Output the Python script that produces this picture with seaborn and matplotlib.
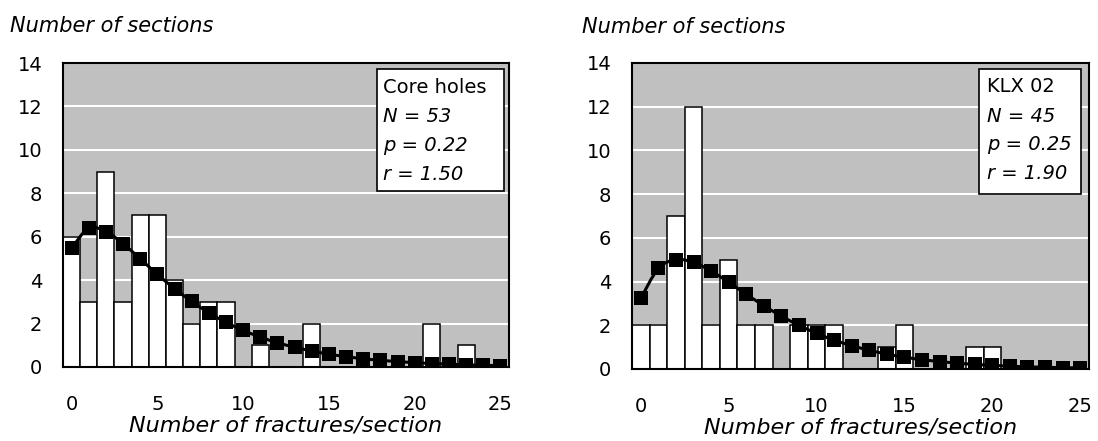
import matplotlib
matplotlib.use("Agg")
import matplotlib.pyplot as plt
import seaborn as sns
from matplotlib.patches import Rectangle, PathPatch
from matplotlib.path import Path

# Number of fractures per section (histogram bins)
fractures = list(range(26))

# Core holes: observed section counts and fitted negative binomial
core_counts = [6, 3, 9, 3, 7, 7, 4, 2, 3, 3, 0, 1, 0, 0, 2, 0, 0, 0, 0, 0, 0, 2, 0, 1, 0, 0]
core_fit = [5.47, 6.40, 6.24, 5.68, 4.98, 4.27, 3.61, 3.02, 2.50, 2.06, 1.69, 1.38, 1.12,
            0.91, 0.74, 0.59, 0.48, 0.38, 0.31, 0.25, 0.20, 0.16, 0.13, 0.10, 0.08, 0.06]
core_info = ["Core holes", "N = 53", "p = 0.22", "r = 1.50"]

# KLX 02: observed section counts and fitted negative binomial
klx_counts = [2, 2, 7, 12, 2, 5, 2, 2, 0, 2, 2, 2, 0, 0, 1, 2, 0, 0, 0, 1, 1, 0, 0, 0, 0, 0]
klx_fit = [3.23, 4.60, 5.00, 4.88, 4.48, 3.97, 3.42, 2.90, 2.42, 2.00, 1.63, 1.32, 1.07,
           0.86, 0.68, 0.54, 0.43, 0.34, 0.27, 0.21, 0.17, 0.13, 0.10, 0.08, 0.06, 0.05]
klx_info = ["KLX 02", "N = 45", "p = 0.25", "r = 1.90"]

y_ticks = [0, 2, 4, 6, 8, 10, 12, 14]
x_ticks = [0, 5, 10, 15, 20, 25]

plt.rcParams["font.family"] = ["DejaVu Sans"]

W, H = 1098, 441
fig = plt.figure(figsize=(W / 100, H / 100), dpi=100)
ax1 = fig.add_axes([63 / W, 1 - 367 / H, 446 / W, 304 / H])
ax2 = fig.add_axes([632 / W, 1 - 369 / H, 457 / W, 306 / H])


def smooth_path(xs, ys):
    """Cardinal-spline (spreadsheet-style smoothed line) through the points as Bezier segments."""
    pts = list(zip(xs, ys))
    n = len(pts)
    verts = [pts[0]]
    codes = [Path.MOVETO]
    for i in range(n - 1):
        p0 = pts[i - 1] if i > 0 else pts[i]
        p1 = pts[i]
        p2 = pts[i + 1]
        p3 = pts[i + 2] if i + 2 < n else pts[i + 1]
        c1 = (p1[0] + (p2[0] - p0[0]) / 6, p1[1] + (p2[1] - p0[1]) / 6)
        c2 = (p2[0] - (p3[0] - p1[0]) / 6, p2[1] - (p3[1] - p1[1]) / 6)
        verts += [c1, c2, p2]
        codes += [Path.CURVE4] * 3
    return Path(verts, codes)


def draw_panel(ax, counts, fit, info, box, baselines, text_x):
    ax.set_facecolor("#c0c0c0")
    sns.barplot(x=fractures, y=counts, ax=ax, color="white", saturation=1,
                edgecolor="black", linewidth=1.1, width=1.0, zorder=2)
    ax.add_patch(PathPatch(smooth_path(fractures, fit), transform=ax.transData,
                           fill=False, edgecolor="black", linewidth=2.2, zorder=4))
    sns.scatterplot(x=fractures, y=fit, ax=ax, color="black", marker="s", s=100,
                    edgecolor="black", linewidth=0, zorder=5, legend=False)
    ax.set_xlim(-0.5, 25.5)
    ax.set_ylim(0, 14)
    ax.set_yticks(y_ticks)
    ax.set_yticklabels([str(v) for v in y_ticks])
    ax.set_xticks(x_ticks)
    ax.set_xticklabels([str(v) for v in x_ticks])
    ax.set_axisbelow(True)
    ax.yaxis.grid(True, color="white", linewidth=1.5)
    ax.xaxis.grid(False)
    ax.tick_params(axis="both", length=0, labelsize=14)
    ax.tick_params(axis="x", pad=20)
    ax.tick_params(axis="y", pad=15)
    for sp in ax.spines.values():
        sp.set_visible(True)
        sp.set_color("black")
        sp.set_linewidth(1.5)
        sp.set_zorder(8)
    ax.set_ylabel("")
    ax.set_xlabel("Number of fractures/section", fontsize=16, style="italic", labelpad=1)

    x0, y0, x1, y1 = box
    ax.add_patch(Rectangle((x0, y0), x1 - x0, y1 - y0, transform=ax.transAxes,
                           facecolor="white", edgecolor="black", linewidth=1.2, zorder=6))
    for i, (line, yb) in enumerate(zip(info, baselines)):
        ax.text(text_x, yb, line, transform=ax.transAxes, fontsize=14,
                style="normal" if i == 0 else "italic", va="baseline", ha="left", zorder=7)


draw_panel(ax1, core_counts, core_fit, core_info,
           (0.704, 0.579, 0.989, 0.98), [0.901, 0.806, 0.711, 0.615], 0.718)
draw_panel(ax2, klx_counts, klx_fit, klx_info,
           (0.759, 0.572, 0.982, 0.98), [0.905, 0.807, 0.716, 0.621], 0.776)

fig.text(10 / W, 1 - 32 / H, "Number of sections", fontsize=15, style="italic", va="baseline")
fig.text(582 / W, 1 - 33 / H, "Number of sections", fontsize=15, style="italic", va="baseline")

fig.savefig("out.png", dpi=100, facecolor="white")
